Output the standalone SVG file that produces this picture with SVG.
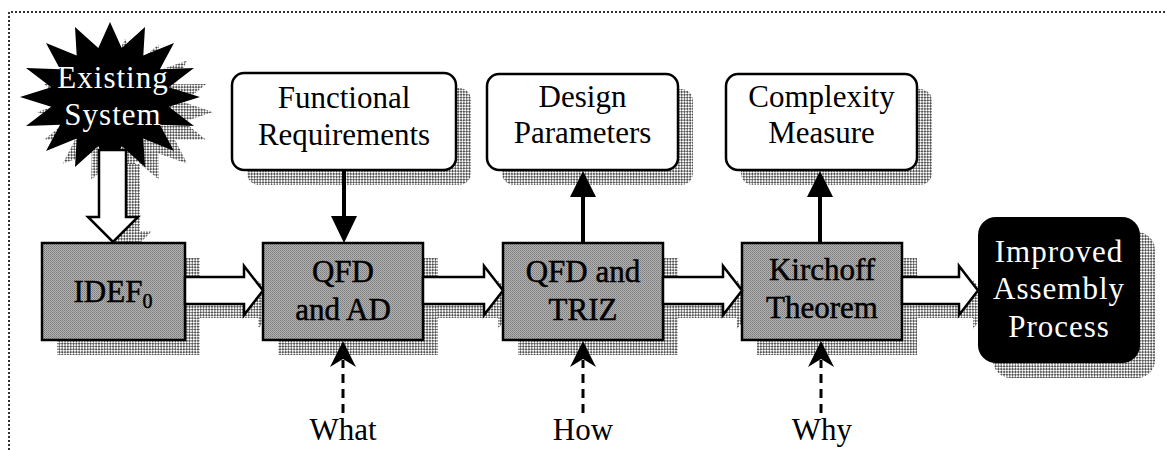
<svg xmlns="http://www.w3.org/2000/svg" width="1167" height="450" viewBox="0 0 1167 450" font-family="Liberation Serif, Times New Roman, serif">
<defs>
<pattern id="chk" width="4" height="4" patternUnits="userSpaceOnUse" patternTransform="rotate(45)">
<rect width="4" height="4" fill="#ffffff"/>
<rect width="2" height="2" fill="#555555"/>
<rect x="2" y="2" width="2" height="2" fill="#555555"/>
</pattern>
<pattern id="grain" width="2" height="2" patternUnits="userSpaceOnUse">
<rect width="2" height="2" fill="#b4b4b4"/>
<rect width="1" height="1" fill="#7a7a7a"/>
<rect x="1" y="1" width="1" height="1" fill="#8a8a8a"/>
</pattern>
</defs>
<style>
.t{font-size:31px;text-anchor:middle;fill:#000}
.wt{fill:#fff;letter-spacing:1px}
.bx{stroke:#000;stroke-width:0.5}
.shadow{fill:url(#chk)}
.proc{fill:url(#grain);stroke:#000;stroke-width:2.5}
.out{fill:#fff;stroke:#000;stroke-width:2.5}
.hollow{fill:#fff;stroke:#000;stroke-width:2.5;stroke-linejoin:miter}
.solid{stroke:#000;stroke-width:4;fill:none}
.dash{stroke:#000;stroke-width:3;fill:none;stroke-dasharray:9 6}
.head{fill:#000;stroke:none}
.frame{fill:none;stroke:#333;stroke-width:2;stroke-dasharray:2 2}
</style>

<path class="frame" d="M9,450 L9,12 L1165,12"/>

<g id="shadows">
<polygon class="shadow" transform="translate(15,15)" points="110,24 121.7,48 143.7,29.6 143.3,55.4 172.2,45.4 159.9,69.2 191.3,69.1 168.8,87.2 198,97 168.8,106.8 191.3,124.9 159.9,124.8 172.2,148.6 143.3,138.6 143.7,164.4 121.7,146 110,170 98.3,146 76.3,164.4 76.7,138.6 47.8,148.6 60.1,124.8 28.7,124.9 51.2,106.8 22,97 51.2,87.2 28.7,69.1 60.1,69.2 47.8,45.4 76.7,55.4 76.3,29.6 98.3,48"/>
<polygon class="shadow" transform="translate(14,14)" points="99,150 126,150 126,217 138,217 113,242 88,217 99,217"/>
<rect class="shadow" x="247" y="88" width="224" height="97" rx="12"/>
<rect class="shadow" x="502" y="89" width="191" height="96" rx="12"/>
<rect class="shadow" x="741" y="89" width="191" height="96" rx="12"/>
<rect class="shadow" x="57" y="258" width="143" height="97"/>
<rect class="shadow" x="278" y="258" width="160" height="97"/>
<rect class="shadow" x="518" y="258" width="160" height="97"/>
<rect class="shadow" x="757" y="258" width="160" height="97"/>
<rect class="shadow" x="993" y="232" width="162" height="146" rx="18"/>
<polygon class="shadow" transform="translate(14,14)" points="185,277 244,277 244,266 263,290.5 244,315 244,304 185,304"/>
<polygon class="shadow" transform="translate(14,14)" points="423,277 484,277 484,266 503,290.5 484,315 484,304 423,304"/>
<polygon class="shadow" transform="translate(14,14)" points="663,277 723,277 723,266 742,290.5 723,315 723,304 663,304"/>
<polygon class="shadow" transform="translate(14,14)" points="902,277 959,277 959,266 978,290.5 959,315 959,304 902,304"/>
</g>

<g id="existing-system">
<polygon fill="#000" points="110,22 121.7,48 145,27 143.3,55.4 174,43 159.9,69.2 194,68 168.8,87.2 200,97 168.8,106.8 194,126 159.9,124.8 174,151 143.3,138.6 145,167 121.7,146 110,172 98.3,146 75,167 76.7,138.6 46,151 60.1,124.8 26,126 51.2,106.8 20,97 51.2,87.2 26,68 60.1,69.2 46,43 76.7,55.4 75,27 98.3,48"/>
<text class="t wt" x="113" y="88">Existing</text>
<text class="t wt" x="113" y="125">System</text>
</g>

<g id="functional-requirements">
<rect class="out" x="232" y="73" width="224" height="97" rx="12"/>
<text class="t" x="344" y="108">Functional</text>
<text class="t" x="344" y="145">Requirements</text>
</g>

<g id="design-parameters">
<rect class="out" x="487" y="74" width="191" height="96" rx="12"/>
<text class="t" x="582.5" y="107">Design</text>
<text class="t" x="582.5" y="143">Parameters</text>
</g>

<g id="complexity-measure">
<rect class="out" x="726" y="74" width="191" height="96" rx="12"/>
<text class="t" x="821.5" y="107">Complexity</text>
<text class="t" x="821.5" y="143">Measure</text>
</g>

<g id="idef0">
<rect class="proc" x="42" y="243" width="143" height="97"/>
<text class="t bx" x="113" y="302">IDEF<tspan font-size="20" dy="6">0</tspan></text>
</g>

<g id="qfd-ad">
<rect class="proc" x="263" y="243" width="160" height="97"/>
<text class="t bx" x="343" y="282">QFD</text>
<text class="t bx" x="343" y="320">and AD</text>
</g>

<g id="qfd-triz">
<rect class="proc" x="503" y="243" width="160" height="97"/>
<text class="t bx" x="583" y="282">QFD and</text>
<text class="t bx" x="583" y="320">TRIZ</text>
</g>

<g id="kirchoff">
<rect class="proc" x="742" y="243" width="160" height="97"/>
<text class="t bx" x="822" y="280">Kirchoff</text>
<text class="t bx" x="822" y="318">Theorem</text>
</g>

<g id="improved-process">
<rect fill="#000" x="978" y="217" width="162" height="146" rx="18"/>
<text class="t wt" x="1059" y="262">Improved</text>
<text class="t wt" x="1059" y="299">Assembly</text>
<text class="t wt" x="1059" y="337">Process</text>
</g>

<g id="labels">
<text class="t" x="343" y="440">What</text>
<text class="t" x="583" y="440">How</text>
<text class="t" x="822" y="440">Why</text>
</g>

<g id="connectors">
<polygon class="hollow" points="99,150 126,150 126,217 138,217 113,242 88,217 99,217"/>
<polygon class="hollow" points="185,277 244,277 244,266 263,290.5 244,315 244,304 185,304"/>
<polygon class="hollow" points="423,277 484,277 484,266 503,290.5 484,315 484,304 423,304"/>
<polygon class="hollow" points="663,277 723,277 723,266 742,290.5 723,315 723,304 663,304"/>
<polygon class="hollow" points="902,277 959,277 959,266 978,290.5 959,315 959,304 902,304"/>

<line class="solid" x1="344" y1="170" x2="344" y2="218"/>
<polygon class="head" points="331,216 357,216 344,243"/>
<line class="solid" x1="583" y1="243" x2="583" y2="196"/>
<polygon class="head" points="570,197 596,197 583,171"/>
<line class="solid" x1="820" y1="243" x2="820" y2="196"/>
<polygon class="head" points="807,197 833,197 820,171"/>

<line class="dash" x1="343" y1="413" x2="343" y2="360"/>
<polygon class="head" points="343,341 356,367 343,359 330,367"/>
<line class="dash" x1="583" y1="413" x2="583" y2="360"/>
<polygon class="head" points="583,341 596,367 583,359 570,367"/>
<line class="dash" x1="821" y1="413" x2="821" y2="360"/>
<polygon class="head" points="821,341 834,367 821,359 808,367"/>
</g>
</svg>
